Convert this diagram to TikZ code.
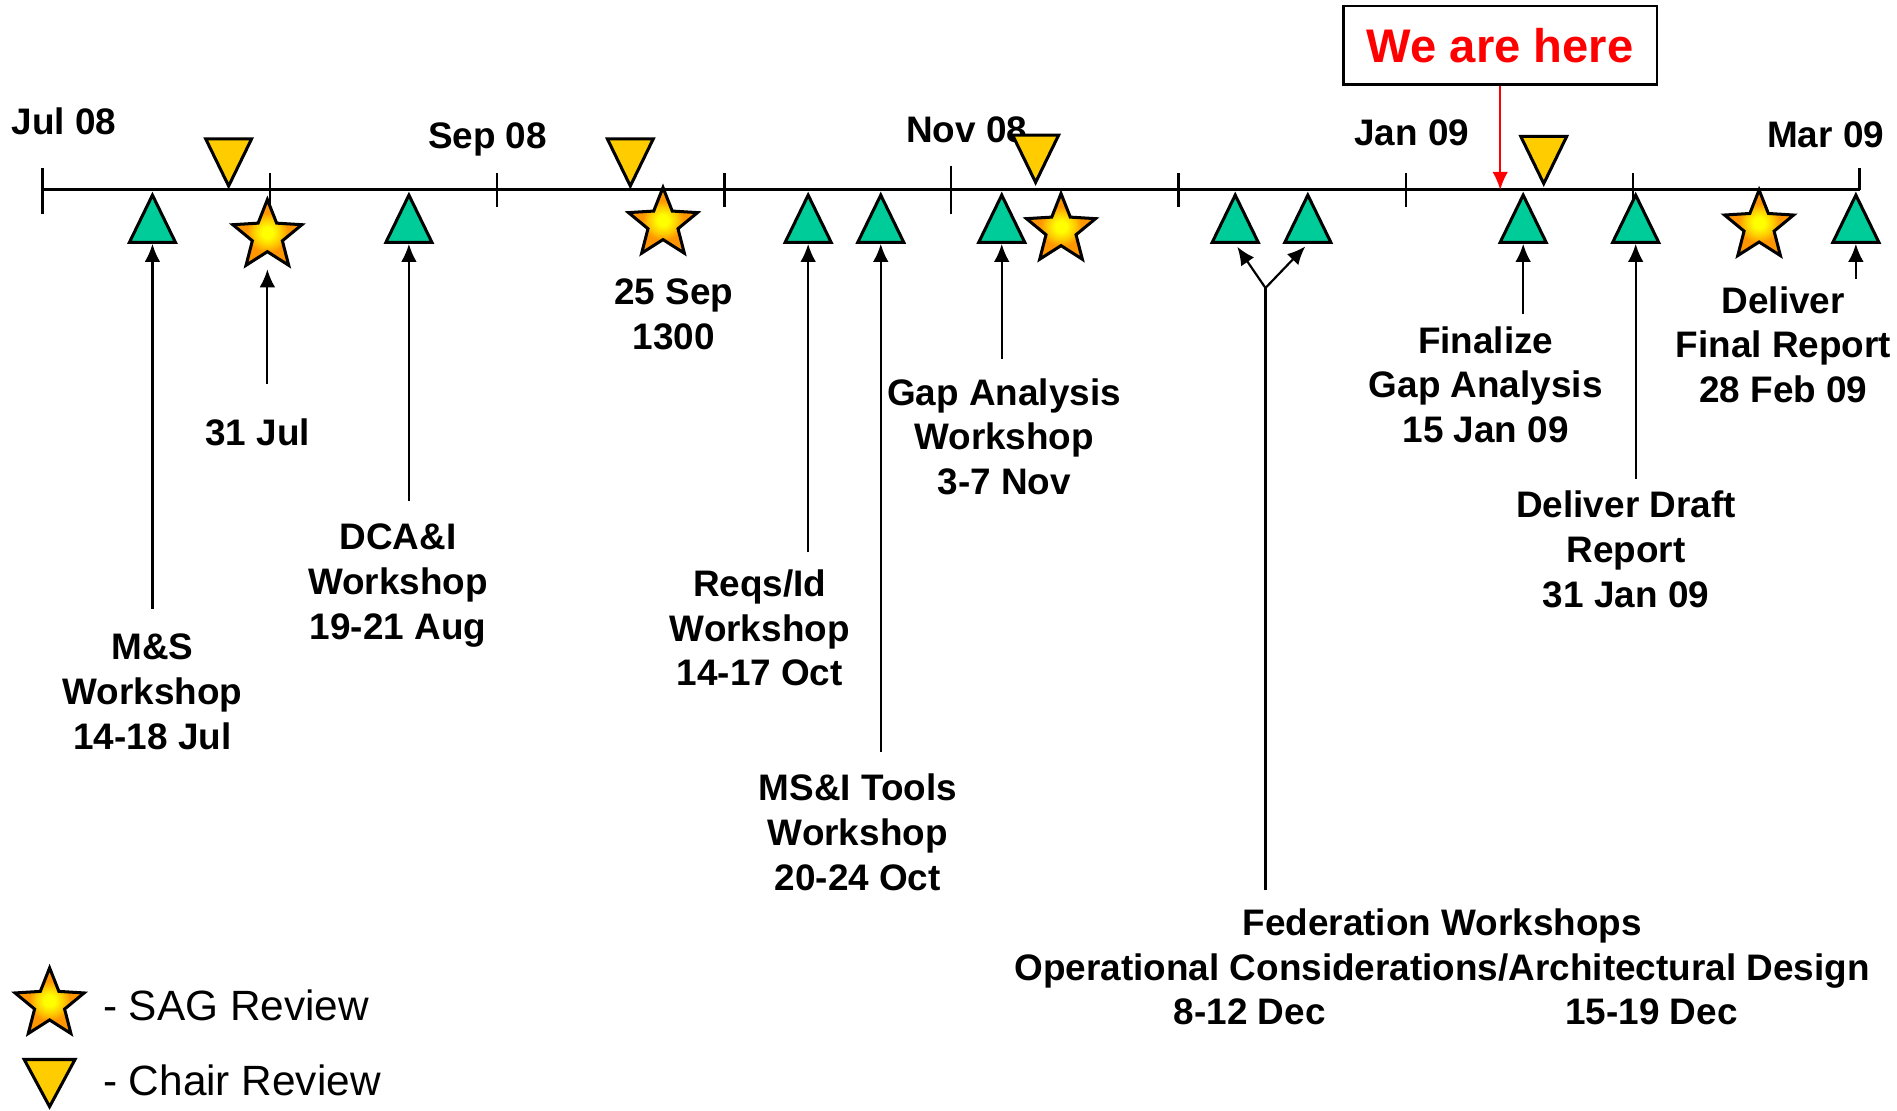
\documentclass[tikz,border=0pt]{standalone}
\usepackage{fontspec}
\setmainfont{Liberation Sans}
\usetikzlibrary{shapes.geometric,arrows.meta}
\definecolor{msgreen}{RGB}{0,204,153}
\definecolor{chairyel}{RGB}{255,204,0}
\definecolor{sagout}{RGB}{255,150,0}
\definecolor{sagin}{RGB}{255,255,0}
\pgfdeclareradialshading{sagshade}{\pgfpoint{0bp}{0bp}}{color(0bp)=(sagin); color(4bp)=(sagin);
  color(10bp)=(chairyel); color(15bp)=(sagout); color(50bp)=(sagout)}
\tikzset{>={Latex[length=15pt,width=13pt]}}
\tikzset{
  mile/.style = {isosceles triangle, isosceles triangle stretches,
    shape border rotate=90, anchor=apex, minimum width=38pt, minimum height=39pt,
    inner sep=0pt, draw, line width=2.5pt, fill=msgreen},
  chairrev/.style = {mile, shape border rotate=-90, fill=chairyel},
  sagrev/.style = {star, star points=5, star point ratio=2.3, minimum size=60pt,
    inner sep=0pt, draw, line width=2.5pt, shading=sagshade},
  lbl/.style = {align=center, font=\fontsize{30.5}{37}\selectfont\bfseries, inner sep=6pt},
  month/.style = {anchor=base, font=\fontsize{30.5}{37}\selectfont\bfseries, inner sep=0pt},
  legend/.style = {anchor=west, font=\fontsize{35}{42}\selectfont, inner sep=0pt},
  pointer/.style = {line width=1.8pt}
}

\begin{document}
\begin{tikzpicture}[x=1pt,y=-1pt]
  \useasboundingbox (0,0) rectangle (1568,918);
  % time line
  \draw[line width=2.5pt] (35,157) -- (1537,157);
  \draw[line width=2pt] (35,139) -- (35,177);
  \draw[line width=2pt] (223,143) -- ++(0,28);
  \draw[line width=2pt] (411,143) -- ++(0,28);
  \draw[line width=2pt] (599,143) -- ++(0,28);
  \draw[line width=2pt] (786,137) -- ++(0,40);
  \draw[line width=2pt] (974,143) -- ++(0,28);
  \draw[line width=2pt] (1162,143) -- ++(0,28);
  \draw[line width=2pt] (1350,143) -- ++(0,28);
  \draw[line width=2pt] (1537,139) -- (1537,157);
  % months
  \node[month] (jul) at (53,111) {Jul 08};
  \node[month] (sep) at (403,123) {Sep 08};
  \node[month] (nov) at (799,118) {Nov 08};
  \node[month] (jan) at (1167,120) {Jan 09};
  \node[month] (mar) at (1509,122) {Mar 09};
  % workshops
  \node[mile] (ms) at (126,158) {};
  \node[mile] (dca) at (338,158) {};
  \node[mile] (req) at (668,158) {};
  \node[mile] (msi) at (728,158) {};
  \node[mile] (gap) at (828,158) {};
  \node[mile] (fed1) at (1021,158) {};
  \node[mile] (fed2) at (1081,158) {};
  \node[mile] (fin) at (1259,158) {};
  \node[mile] (drf) at (1352,158) {};
  \node[mile] (rpt) at (1534,158) {};
  % chair reviews
  \node[chairrev] (cr1) at (189,157) {};
  \node[chairrev] (cr2) at (521,157) {};
  \node[chairrev] (cr3) at (856,154) {};
  \node[chairrev] (cr4) at (1276,155) {};
  % SAG reviews
  \node[sagrev] (sag1) at (221,195) {};
  \node[sagrev] (sag2) at (548,185) {};
  \node[sagrev] (sag3) at (877,190) {};
  \node[sagrev] (sag4) at (1454,187) {};
  % labels
  \node[lbl] (msl) at (126,572) {M\&S\\Workshop\\14-18 Jul};
  \draw[->,pointer,shorten <=15pt] (msl.north -| ms) -- (ms.lower side);
  \node[lbl] (jull) at (213,357) {31 Jul};
  \draw[->,pointer,shorten <=22pt,shorten >=13pt] (jull.north -| sag1) -- (sag1.south);
  \node[lbl] (dcal) at (329,484) {DCA\&I\\Workshop\\19-21 Aug};
  \draw[->,pointer,shorten <=13pt] (dcal.north -| dca) -- (dca.lower side);
  \node[lbl] (sepl) at (557,260) {25 Sep\\1300};
  \node[lbl] (reql) at (628,519) {Reqs/Id\\Workshop\\14-17 Oct};
  \draw[->,pointer,shorten <=8pt] (reql.north -| req) -- (req.lower side);
  \node[lbl] (msil) at (709,688) {MS\&I Tools\\Workshop\\20-24 Oct};
  \draw[->,pointer,shorten <=12pt] (msil.north -| msi) -- (msi.lower side);
  \node[lbl] (gapl) at (830,361) {Gap Analysis\\Workshop\\3-7 Nov};
  \draw[->,pointer,shorten <=10pt] (gapl.north -| gap) -- (gap.lower side);
  \node[lbl] (fedl) at (1192,784) {Federation Workshops\\Operational Considerations/Architectural Design};
  \node[lbl] (fedd1) at (1033,836) {8-12 Dec};
  \node[lbl] (fedd2) at (1365,836) {15-19 Dec};
  \coordinate (fork) at (1046,238);
  \draw[pointer,shorten <=9pt] (fedl.north -| fork) -- (fork);
  \draw[->,pointer,shorten >=3pt] (fork) -- (fed1.lower side);
  \draw[->,pointer,shorten >=3pt] (fork) -- (fed2.lower side);
  \node[lbl] (finl) at (1228,318) {Finalize\\Gap Analysis\\15 Jan 09};
  \draw[->,pointer,shorten <=4pt] (finl.north -| fin) -- (fin.lower side);
  \node[lbl] (drfl) at (1344,454) {Deliver Draft\\Report\\31 Jan 09};
  \draw[->,pointer,shorten <=4pt] (drfl.north -| drf) -- (drf.lower side);
  \node[lbl] (rptl) at (1474,285) {Deliver\\Final Report\\28 Feb 09};
  \draw[->,pointer] (rptl.north -| rpt) -- (rpt.lower side);
  % we are here
  \node[draw, line width=2pt, minimum width=259pt, minimum height=65pt, text=red,
    font=\fontsize{39}{45}\selectfont\bfseries] (here) at (1240,37.5) {We are here};
  \coordinate (now) at (1240,157);
  \draw[->,pointer,red] (here) -- (now);
  % legend
  \node[sagrev] (legsag) at (41,830) {};
  \node[legend] (legsagl) at (85,831) {- SAG Review};
  \node[chairrev, minimum width=42pt] (legchr) at (41,918) {};
  \node[legend] (legchrl) at (85,893) {- Chair Review};
\end{tikzpicture}
\end{document}
